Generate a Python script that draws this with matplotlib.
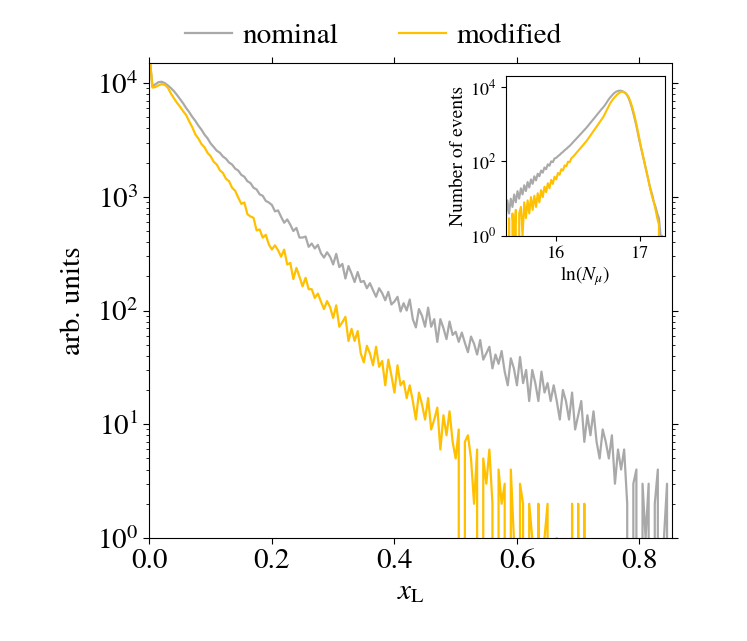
import numpy as np
import matplotlib
matplotlib.use('Agg')
import matplotlib.pyplot as plt
from matplotlib.ticker import LogLocator, NullFormatter, FixedLocator

plt.rcParams['font.family'] = 'STIXGeneral'
plt.rcParams['mathtext.fontset'] = 'stix'

# main histogram, x_L bins of width 0.005 starting at 0
bin_width = 0.005
nominal = [
    17800, 9330, 9780, 10180, 10260, 9990, 9540, 9030, 8490, 7860,
    7230, 6640, 6030, 5550, 5040, 4650, 4220, 3890, 3520, 3260,
    2940, 2740, 2540, 2440, 2260, 2160, 2000, 1920, 1770, 1700,
    1560, 1500, 1370, 1320, 1200, 1160, 1050, 1020, 920, 890,
    847, 744, 759, 667, 591, 632, 568, 500, 532, 438,
    438, 447, 363, 388, 351, 378, 319, 292, 325, 297,
    254, 315, 241, 257, 191, 246, 211, 178, 218, 178,
    182, 157, 174, 151, 132, 157, 142, 123, 146, 113,
    120, 132, 98, 116, 100, 125, 84, 71, 103, 90,
    72, 106, 72, 84, 53, 84, 70, 56, 80, 61,
    65, 53, 64, 52, 43, 59, 51, 41, 55, 37,
    42, 48, 31, 41, 34, 44, 29, 22, 38, 31,
    22, 39, 23, 30, 16, 30, 23, 16, 29, 19,
    23, 16, 22, 16, 11, 20, 16, 11, 19, 9,
    12, 16, 7, 12, 8, 13, 7, 5, 9, 7,
    5, 8, 3, 6, 4, 6, 2, 0, 3, 4,
    0, 3, 1, 3, 0, 2, 4, 0, 1, 3, 0, 2,
]
modified = [
    17800, 9120, 9240, 9540, 9780, 9650, 9130, 8110, 7350, 6710,
    6200, 5660, 5230, 4600, 4090, 3540, 3250, 2910, 2720, 2430,
    2270, 2030, 1920, 1710, 1620, 1440, 1370, 1200, 1130, 985,
    867, 891, 703, 671, 653, 506, 516, 437, 463, 381,
    344, 374, 339, 297, 343, 254, 262, 189, 237, 198,
    163, 194, 154, 154, 129, 141, 120, 103, 121, 107,
    86, 111, 72, 79, 88, 54, 69, 54, 66, 42,
    35, 49, 42, 33, 48, 32, 36, 22, 37, 27,
    19, 33, 22, 24, 17, 22, 16, 11, 19, 15,
    11, 17, 9, 11, 14, 6, 12, 8, 13, 7,
    5, 9, 0, 7, 8, 5, 2, 6, 0, 5,
    3, 6, 2, 0, 4, 2, 3, 0, 4, 1,
    0, 3, 2, 0, 2, 1, 0, 2, 0, 1,
    2, 0, 0, 1, 0, 0, 0, 0, 2, 0,
    2, 0, 2, 0, 0, 0, 0, 0, 0, 0,
    0, 0, 0, 0, 0, 0, 0, 0, 0, 0,
    0, 0, 0, 0, 0, 0, 0, 0, 0, 0, 0, 0,
]

# inset, ln(N_mu) bins of width 0.02 starting at 15.40
nmu_start = 15.40
nmu_width = 0.02
nominal_nmu = [
    3, 9, 4, 10, 6, 13, 8, 16, 10, 19,
    13, 23, 16, 28, 20, 33, 25, 40, 31, 47,
    40, 57, 50, 69, 62, 84, 77, 101, 96, 121,
    125, 139, 150, 167, 181, 201, 218, 241, 263, 294,
    330, 369, 413, 462, 518, 579, 649, 726, 813, 925,
    1052, 1194, 1358, 1545, 1758, 1995, 2270, 2582, 2884, 3311,
    3890, 4571, 5248, 5888, 6607, 7244, 7674, 7943, 8035, 7852,
    7499, 6998, 6166, 5012, 3802, 2692, 1820, 1175, 741, 437,
    275, 174, 112, 71, 45, 28, 18, 13, 8, 6,
    4, 3, 1, 1, 0,
]
modified_nmu = [
    0, 0, 3, 0, 4, 1, 5, 0, 4, 6,
    1, 8, 3, 9, 4, 11, 5, 12, 6, 14,
    8, 17, 11, 21, 15, 26, 19, 32, 25, 39,
    33, 49, 44, 62, 57, 79, 74, 99, 96, 122,
    134, 151, 171, 193, 218, 246, 278, 314, 355, 412,
    479, 556, 646, 750, 871, 1012, 1175, 1365, 1585, 1950,
    2399, 2951, 3631, 4266, 4898, 5495, 6166, 6761, 7244, 7499,
    7413, 6998, 6310, 5370, 4169, 3020, 2089, 1349, 832, 501,
    295, 182, 115, 71, 45, 28, 17, 11, 8, 5,
    3, 2, 0, 0, 0,
]

gray = '#A9A9A9'
gold = '#FFC000'

x = np.arange(len(nominal)) * bin_width
x_nmu = nmu_start + np.arange(len(nominal_nmu)) * nmu_width

fig = plt.figure(figsize=(7.47, 6.41), dpi=100)
ax = fig.add_axes([0.200, 0.1607, 0.6995, 0.741])

ax.plot(x, nominal, color=gray, lw=1.6, label='nominal')
ax.plot(x, modified, color=gold, lw=1.6, label='modified')
ax.set_yscale('log')
ax.set_xlim(0, 0.853)
ax.set_ylim(1, 1.5e4)
ax.set_xticks([0.0, 0.2, 0.4, 0.6, 0.8])
ax.set_xticklabels(['0.0', '0.2', '0.4', '0.6', '0.8'])
ax.yaxis.set_major_locator(LogLocator(base=10, numticks=10))
ax.yaxis.set_minor_locator(LogLocator(base=10, subs=np.arange(2, 10), numticks=20))
ax.yaxis.set_minor_formatter(NullFormatter())
ax.tick_params(which='both', direction='out', top=True, right=True,
               labelsize=21)
ax.tick_params(which='major', length=4.5, width=0.8)
ax.tick_params(which='minor', length=2.5, width=0.6)
ax.set_xlabel(r'$x_\mathrm{L}$', fontsize=21, labelpad=4)
ax.set_ylabel('arb. units', fontsize=21, labelpad=8)

fig.legend(loc='upper center', bbox_to_anchor=(0.5, 1.005), ncol=2,
           frameon=False, fontsize=21, handlelength=1.6,
           handletextpad=0.35, columnspacing=2.1)

# inset
axin = fig.add_axes([0.677, 0.632, 0.213, 0.2496])
axin.plot(x_nmu, nominal_nmu, color=gray, lw=1.5)
axin.plot(x_nmu, modified_nmu, color=gold, lw=1.5)
axin.set_yscale('log')
axin.set_xlim(15.40, 17.29)
axin.set_ylim(1, 2e4)
axin.set_xticks([16, 17])
axin.yaxis.set_major_locator(FixedLocator([1, 100, 1e4]))
axin.yaxis.set_minor_locator(FixedLocator([]))
axin.tick_params(direction='out', labelsize=13, length=3.5, width=0.8)
axin.set_xlabel(r'$\ln(N_\mu)$', fontsize=14, labelpad=2)
axin.set_ylabel('Number of events', fontsize=14, labelpad=2)

fig.savefig('out.png', dpi=100)
